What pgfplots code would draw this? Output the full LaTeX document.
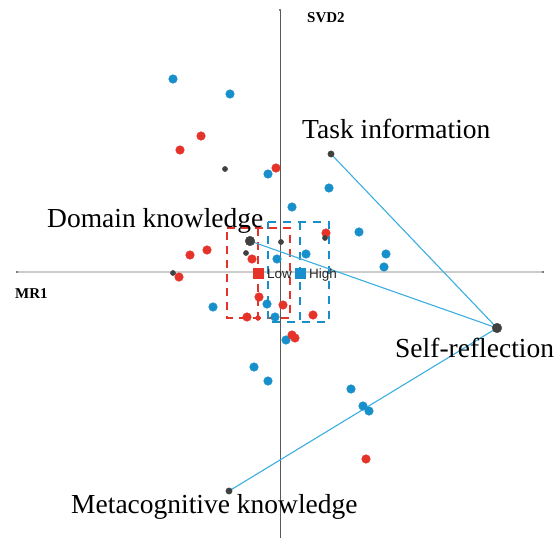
\documentclass[border=0pt]{standalone}
\usepackage{pgfplots}
\pgfplotsset{compat=1.18}
\usepackage{fontspec}
\setmainfont{Liberation Serif}
\newfontfamily\sansf{Liberation Sans}
\definecolor{cblue}{HTML}{168FCA}
\definecolor{cred}{HTML}{E63329}
\definecolor{cgray}{HTML}{404040}
\definecolor{lblue}{HTML}{3AAEE0}
\begin{document}
\begin{tikzpicture}
\begin{axis}[
  width=556pt, height=538pt, scale only axis,
  xmin=0, xmax=556, ymin=-538, ymax=0,
  hide axis, clip=false,
]
\path (axis cs:0,-538) rectangle (axis cs:556,0);
% axes
\addplot[draw=black!20, line width=1.2pt, no marks] coordinates {(17,-272) (543,-272)};
\addplot[draw=black!65, line width=0.9pt, no marks] coordinates {(280,-10) (280,-538)};
\addplot[only marks, mark=*, mark size=0.8pt, color=black!60] coordinates {(17,-272) (543,-272) (280,-10)};
% dashed boxes
\addplot[cred, line width=1.3pt, no marks, dash pattern=on 8pt off 6pt] coordinates {(227,-228) (290,-228) (290,-318) (227,-318) (227,-228)};
\addplot[cred, line width=1.3pt, no marks, dash pattern=on 8pt off 6pt] coordinates {(258,-228) (258,-318)};
\addplot[cblue, line width=1.3pt, no marks, dash pattern=on 8pt off 7pt] coordinates {(268,-222) (329,-222) (329,-322) (268,-322) (268,-222)};
\addplot[cblue, line width=1.3pt, no marks, dash pattern=on 8pt off 7pt] coordinates {(300,-222) (300,-322)};
% connecting lines
\addplot[lblue, line width=1.1pt, no marks] coordinates {(331,-154) (497,-328)};
\addplot[lblue, line width=1.1pt, no marks] coordinates {(250,-241) (497,-328)};
\addplot[lblue, line width=1.1pt, no marks] coordinates {(229,-491) (497,-328)};
% blue points
\addplot[only marks, mark=*, mark size=4.3pt, color=cblue] coordinates {
(173,-79) (230,-94) (268,-174) (292,-207) (277,-259) (329,-188) (359,-232)
(306,-254) (386,-254) (384,-267) (213,-307) (267,-304) (275,-317)
(286,-340) (254,-367) (268,-381) (351,-389) (363,-406) (369,-411)};
% red points
\addplot[only marks, mark=*, mark size=4.3pt, color=cred] coordinates {
(201,-136) (180,-150) (276,-168) (207,-250) (190,-255) (252,-259) (179,-277)
(326,-233) (259,-297) (283,-305) (313,-315) (247,-317) (292,-335) (295,-338) (366,-459)};
\addplot[only marks, mark=*, mark size=2.5pt, color=cred] coordinates {(258,-318)};
% gray small
\addplot[only marks, mark=*, mark size=2.6pt, color=cgray] coordinates {
(225,-169) (281,-242) (246,-253) (325,-238) (173,-273)};
% gray large
\addplot[only marks, mark=*, mark size=4.8pt, color=cgray] coordinates {
(250,-241) (497,-328)};
\addplot[only marks, mark=*, mark size=3.2pt, color=cgray] coordinates {
(331,-154) (229,-491)};
% legend squares
\addplot[only marks, mark=square*, mark size=5pt, color=cred] coordinates {(258,-273)};
\addplot[only marks, mark=square*, mark size=5pt, color=cblue] coordinates {(300,-273)};
% texts
\node[anchor=base west, inner sep=0pt, font=\sansf\fontsize{13.5}{15}\selectfont, text=black!85] at (axis cs:267,-279) {Low};
\node[anchor=base west, inner sep=0pt, font=\sansf\fontsize{13.5}{15}\selectfont, text=black!85] at (axis cs:309,-279) {High};
\node[anchor=base west, inner sep=0pt, font=\bfseries\fontsize{15}{17}\selectfont] at (axis cs:307,-23) {SVD2};
\node[anchor=base west, inner sep=0pt, font=\bfseries\fontsize{15}{17}\selectfont] at (axis cs:15,-298) {MR1};
\node[anchor=base west, inner sep=0pt, font=\fontsize{27.5}{30}\selectfont] at (axis cs:47,-228) {Domain knowledge};
\node[anchor=base west, inner sep=0pt, font=\fontsize{27.5}{30}\selectfont] at (axis cs:302,-139) {Task information};
\node[anchor=base west, inner sep=0pt, font=\fontsize{27.5}{30}\selectfont] at (axis cs:395,-357) {Self-reflection};
\node[anchor=base west, inner sep=0pt, font=\fontsize{27.5}{30}\selectfont] at (axis cs:71,-513) {Metacognitive knowledge};
\end{axis}
\end{tikzpicture}
\end{document}
